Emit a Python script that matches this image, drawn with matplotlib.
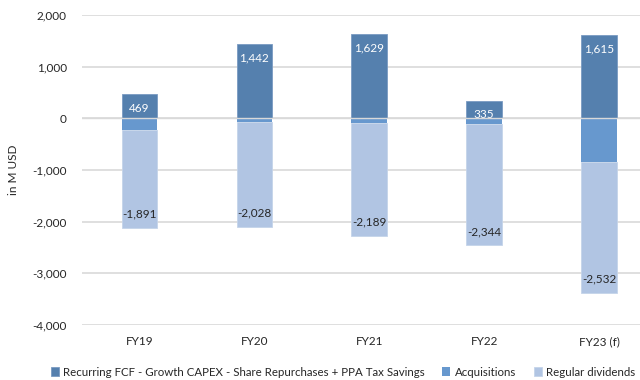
import matplotlib.pyplot as plt
import numpy as np

plt.rcParams['font.family'] = ['Lato', 'DejaVu Sans']

years = ['FY19', 'FY20', 'FY21', 'FY22', 'FY23 (f)']
fcf = [469, 1442, 1629, 335, 1615]
acquisitions = [-232, -77, -90, -116, -850]
dividends = [-1891, -2028, -2189, -2344, -2532]

c_fcf = '#5580AE'
c_acq = '#6798CE'
c_div = '#B1C5E3'
txt = '#262626'

fig = plt.figure(figsize=(6.4, 3.8), dpi=100)
ax = fig.add_axes([82 / 640, 1 - 325 / 380, 1 - 82 / 640, 310 / 380])

x = np.arange(len(years))
w = 0.31
b1 = ax.bar(x, fcf, w, color=c_fcf, edgecolor='#7A9BC2', linewidth=0.6, zorder=2,
            label='Recurring FCF - Growth CAPEX - Share Repurchases + PPA Tax Savings')
b2 = ax.bar(x, acquisitions, w, color=c_acq, zorder=2, label='Acquisitions')
b3 = ax.bar(x, dividends, w, bottom=acquisitions, color=c_div, edgecolor='#C5D4EA',
            linewidth=0.6, zorder=2, label='Regular dividends')

ax.bar_label(b1, labels=[f'{v:,}' for v in fcf], padding=-14, color='white', fontsize=8.5)
ax.bar_label(b3, labels=[f'{v:,}' for v in dividends], padding=-14, color=txt, fontsize=8.5)

ax.axhline(0, color='#D9D9D9', lw=1, zorder=3)
ax.set_ylim(-4000, 2000)
ax.set_xlim(-0.5, (640 - 139) / 115)
ax.set_yticks(range(-4000, 2001, 1000))
ax.yaxis.set_major_formatter(plt.FuncFormatter(lambda v, p: f'{int(v):,}'))
ax.grid(axis='y', color='#D9D9D9', lw=1.2, zorder=0)
ax.set_axisbelow(True)
ax.set_xticks(x)
ax.set_xticklabels(years)
ax.tick_params(length=0, labelsize=8.5, colors=txt, pad=8)
ax.tick_params(axis='y', pad=11)
for s in ax.spines.values():
    s.set_visible(False)
ax.set_ylabel('in M USD', fontsize=8.5, color=txt)
ax.yaxis.set_label_coords(-0.113, 0.5)

fig.legend(handles=[b1, b2, b3], loc='center', bbox_to_anchor=(0.536, 1 - 372 / 380),
           ncol=3, frameon=False, fontsize=8.3, handlelength=0.7, handleheight=0.7,
           handletextpad=0.4, columnspacing=1.5, labelcolor=txt)

fig.savefig('out.png', dpi=100)
